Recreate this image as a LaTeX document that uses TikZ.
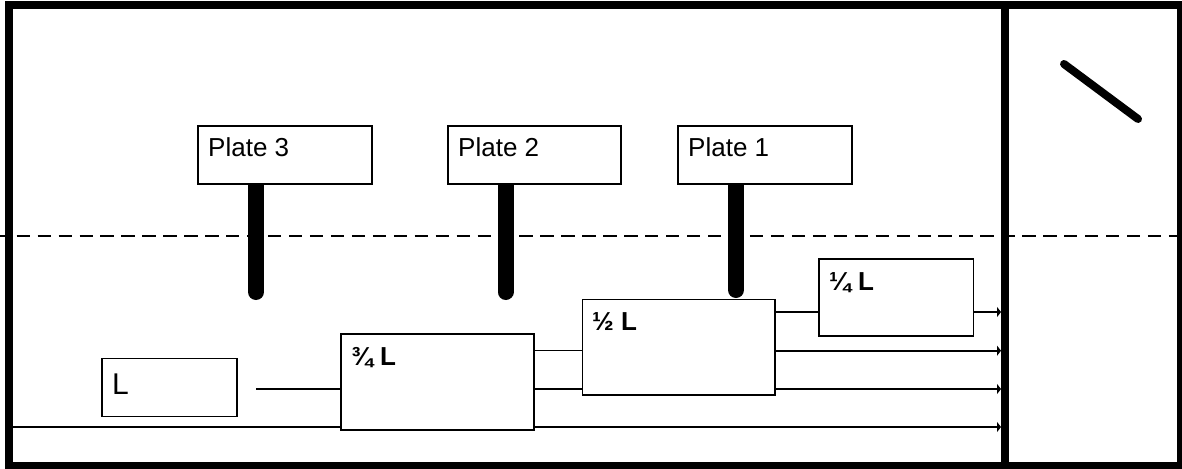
\documentclass[tikz,border=0pt]{standalone}
\usepackage{fontspec}
\setmainfont{Liberation Sans}
\usetikzlibrary{arrows.meta}
\tikzset{
  boxnode/.style={draw, line width=1.6pt, fill=white, inner sep=0pt, outer sep=0pt, minimum height=58pt},
  lbl/.style={anchor=base west, inner sep=0pt, font=\fontsize{26}{30}\selectfont},
  blbl/.style={anchor=base west, inner sep=0pt, font=\fontsize{26}{30}\selectfont\bfseries},
  stem/.style={line width=16pt, line cap=round},
  conn/.style={line width=1.6pt},
  arr/.style={line width=1.6pt, -{Triangle[length=4pt,width=10pt]}},
}
\begin{document}
\begin{tikzpicture}[x=1pt,y=-1pt]
\useasboundingbox (0,0) rectangle (1182,468);
% dashed level line
\draw[line width=2pt, dash pattern=on 13.3pt off 7.65pt, dash phase=4.3pt] (0,236) -- (1177,236);
% stems
\coordinate (s3) at (256,292);
\coordinate (s2) at (505.5,292);
\coordinate (s1) at (736,290);
\draw[stem] (256,184) -- (s3);
\draw[stem] (505.5,184) -- (s2);
\draw[stem] (736,184) -- (s1);
% plates
\node[boxnode, minimum width=174pt] (p3) at (285,155) {};
\node[boxnode, minimum width=173pt] (p2) at (534.5,155) {};
\node[boxnode, minimum width=174pt] (p1) at (765,155) {};
\node[lbl] (t3) at (208,156) {Plate 3};
\node[lbl] (t2) at (458,156) {Plate 2};
\node[lbl] (t1) at (688,156) {Plate 1};
% coordinates for connectors
\coordinate (lend) at (256,389);
\coordinate (b0) at (12,427);
\coordinate (a1) at (1001,312);
\coordinate (a2) at (1001,350.7);
\coordinate (a3) at (1001,389);
\coordinate (a4) at (1001,427);
% bottom line (behind box)
\draw[arr] (b0) -- (a4);
% boxes
\node[boxnode, minimum width=135pt, minimum height=58pt] (lb) at (169.5,387.6) {};
\node[boxnode, minimum width=192.7pt, minimum height=96.3pt] (q3) at (437.4,381.9) {};
\node[boxnode, minimum width=192.7pt, minimum height=95.7pt] (hf) at (678.7,347.2) {};
\node[boxnode, minimum width=154.3pt, minimum height=77pt] (qt) at (896.2,297.5) {};
\node[anchor=base west, inner sep=0pt, font=\fontsize{30}{34}\selectfont] (tl) at (112,394.5) {L};
\node[blbl] (tq3) at (351,365) {¾ L};
\node[blbl] (thf) at (592,330) {½ L};
\node[blbl] (tqt) at (829,290) {¼ L};
% connectors
\draw[conn] (lend) -- (lend -| q3.west);
\draw[conn] (q3.east |- 0,350.3) -- (hf.west |- 0,350.3);
\draw[conn] (q3.east |- 0,389) -- (hf.west |- 0,389);
\draw[conn] (hf.east |- a1) -- (qt.west |- a1);
\draw[arr] (qt.east |- a1) -- (a1);
\draw[arr] (hf.east |- a2) -- (a2);
\draw[arr] (hf.east |- a3) -- (a3);
% frame and divider
\draw[line width=8pt] (8.5,5) rectangle (1180.5,465.5);
\draw[line width=8pt] (1005,5) -- (1005,465.5);
% mirror
\draw[line width=8pt, line cap=round] (1064,64) -- (1138,119);
\end{tikzpicture}
\end{document}
